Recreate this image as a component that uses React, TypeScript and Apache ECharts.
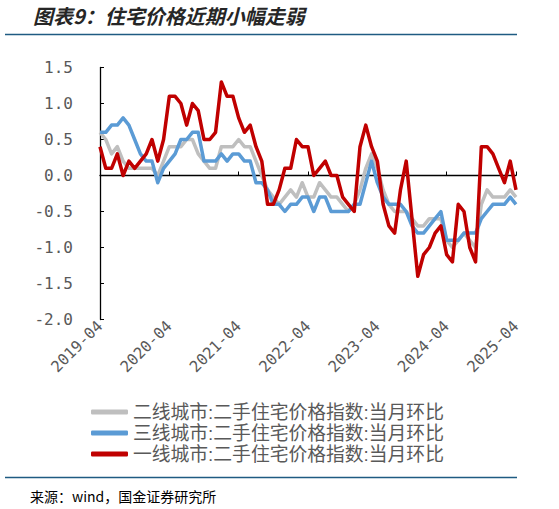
import { useEffect, useRef } from "react";
import * as echarts from "echarts";

// monthly categories 2019-04 .. 2025-04
const months: string[] = [];
for (let y = 2019; y <= 2025; y++) {
  for (let m = 1; m <= 12; m++) {
    if ((y === 2019 && m < 4) || (y === 2025 && m > 4)) continue;
    months.push(`${y}-${String(m).padStart(2, "0")}`);
  }
}

// 二线城市
const tier2 = [
  0.6, 0.5, 0.3, 0.4, 0.2, 0.1, 0.1, 0.1, 0.1, 0.1, 0.0, 0.2,
  0.4, 0.4, 0.4, 0.5, 0.5, 0.3, 0.2, 0.1, 0.1, 0.4, 0.4, 0.4,
  0.5, 0.4, 0.4, 0.2, 0.0, -0.2, -0.3, -0.4, -0.3, -0.2, -0.3, -0.1,
  -0.3, -0.3, -0.1, -0.2, -0.3, -0.3, -0.4, -0.5, -0.4, -0.2, 0.1, 0.3,
  0.1, -0.2, -0.4, -0.5, -0.5, -0.5, -0.6, -0.7, -0.7, -0.6, -0.6, -0.6,
  -0.9, -1.0, -0.9, -0.8, -0.9, -1.0, -0.4, -0.2, -0.3, -0.3, -0.3, -0.2,
  -0.3,
];

// 三线城市
const tier3 = [
  0.6, 0.6, 0.7, 0.7, 0.8, 0.7, 0.5, 0.3, 0.2, 0.2, -0.1, 0.1,
  0.2, 0.3, 0.5, 0.5, 0.6, 0.6, 0.2, 0.2, 0.2, 0.3, 0.2, 0.3,
  0.3, 0.2, 0.2, -0.1, -0.1, -0.2, -0.4, -0.4, -0.5, -0.4, -0.4, -0.3,
  -0.3, -0.5, -0.3, -0.3, -0.5, -0.5, -0.5, -0.5, -0.4, -0.4, -0.1, 0.2,
  -0.1, -0.3, -0.4, -0.4, -0.4, -0.5, -0.7, -0.8, -0.8, -0.7, -0.6, -0.5,
  -0.9, -0.9, -0.9, -0.8, -0.8, -0.8, -0.6, -0.5, -0.4, -0.4, -0.4, -0.3,
  -0.4,
];

// 一线城市
const tier1 = [
  0.4, 0.1, 0.1, 0.3, 0.0, 0.2, 0.1, 0.2, 0.3, 0.5, 0.2, 0.5,
  1.1, 1.1, 1.0, 0.7, 1.0, 0.9, 0.5, 0.5, 0.6, 1.3, 1.1, 1.1,
  0.8, 0.6, 0.7, 0.4, 0.2, -0.4, -0.4, -0.2, 0.1, 0.1, 0.5, 0.4,
  0.4, 0.0, 0.1, 0.2, 0.0, 0.0, -0.3, -0.4, -0.5, 0.4, 0.7, 0.4,
  0.2, -0.4, -0.7, -0.8, -0.2, 0.2, -0.6, -1.4, -1.1, -1.0, -0.8, -0.7,
  -1.1, -1.2, -0.4, -0.5, -1.0, -1.2, 0.4, 0.4, 0.3, 0.1, -0.1, 0.2,
  -0.2,
];

const seriesNames = [
  "二线城市:二手住宅价格指数:当月环比",
  "三线城市:二手住宅价格指数:当月环比",
  "一线城市:二手住宅价格指数:当月环比",
];
const seriesColors = ["#BFBFBF", "#5B9BD5", "#C00000"];

const MONO = "'DejaVu Sans Mono', monospace";
const CJK = "'Noto Sans CJK SC', sans-serif";
const LEGEND_FONT = "'Liberation Sans', 'Noto Sans CJK SC', sans-serif";
const LABEL_COLOR = "#595959";
const RULE_COLOR = "#1F5B82";

export default function App() {
  const ref = useRef<HTMLDivElement>(null);

  useEffect(() => {
    if (!ref.current) return;
    const chart = echarts.init(ref.current, undefined, { renderer: "svg" });

    chart.setOption({
      animation: false,
      backgroundColor: "#ffffff",
      grid: { left: 100, top: 67.5, width: 416, height: 252 },
      xAxis: [
        {
          type: "category",
          data: months,
          boundaryGap: false,
          position: "bottom",
          axisLine: { show: false, onZero: false },
          axisTick: { show: false },
          splitLine: { show: false },
          axisLabel: {
            interval: 11,
            rotate: 45,
            margin: 4,
            color: LABEL_COLOR,
            fontSize: 15.5,
            fontFamily: MONO,
          },
        },
        {
          type: "category",
          data: months,
          boundaryGap: false,
          position: "bottom",
          axisLine: { show: true, onZero: true, lineStyle: { color: "#000", width: 1.3 } },
          axisTick: { show: true, inside: true, length: 4, interval: 11, lineStyle: { color: "#000" } },
          axisLabel: { show: false },
          splitLine: { show: false },
        },
      ],
      yAxis: {
        type: "value",
        min: -2,
        max: 1.5,
        interval: 0.5,
        axisLine: { show: true, lineStyle: { color: "#000", width: 1.3 } },
        axisTick: { show: true, inside: true, length: 4, lineStyle: { color: "#000" } },
        splitLine: { show: false },
        axisLabel: {
          formatter: (v: number) => v.toFixed(1),
          color: LABEL_COLOR,
          fontSize: 16,
          margin: 27,
          fontFamily: MONO,
        },
      },
      legend: {
        orient: "vertical",
        left: 86,
        top: 396.5,
        itemWidth: 37,
        itemHeight: 5,
        itemGap: 0,
        icon: "roundRect",
        data: seriesNames,
        textStyle: { color: LABEL_COLOR, fontSize: 18.8, lineHeight: 21, fontFamily: LEGEND_FONT },
      },
      graphic: [
        {
          type: "text",
          left: 33,
          top: 5,
          style: {
            text: "图表9：住宅价格近期小幅走弱",
            fontSize: 20,
            fontWeight: "bold",
            fontStyle: "italic",
            fontFamily: CJK,
            fill: "#262626",
          },
        },
        {
          type: "line",
          shape: { x1: 5, y1: 34.5, x2: 517, y2: 34.5 },
          style: { stroke: RULE_COLOR, lineWidth: 1.5 },
        },
        {
          type: "line",
          shape: { x1: 5, y1: 477.5, x2: 517, y2: 477.5 },
          style: { stroke: RULE_COLOR, lineWidth: 1.5 },
        },
        {
          type: "text",
          left: 30,
          top: 489,
          style: {
            text: "来源：wind，国金证券研究所",
            fontSize: 14,
            fontFamily: CJK,
            fill: "#000",
          },
        },
      ],
      series: [tier2, tier3, tier1].map((data, i) => ({
        name: seriesNames[i],
        type: "line",
        data,
        symbol: "none",
        color: seriesColors[i],
        lineStyle: { color: seriesColors[i], width: 3.5, join: "round" },
      })),
    });

    return () => chart.dispose();
  }, []);

  return (
    <div
      ref={ref}
      style={{ position: "fixed", left: 0, top: 0, width: 559, height: 509, background: "#fff" }}
    />
  );
}
